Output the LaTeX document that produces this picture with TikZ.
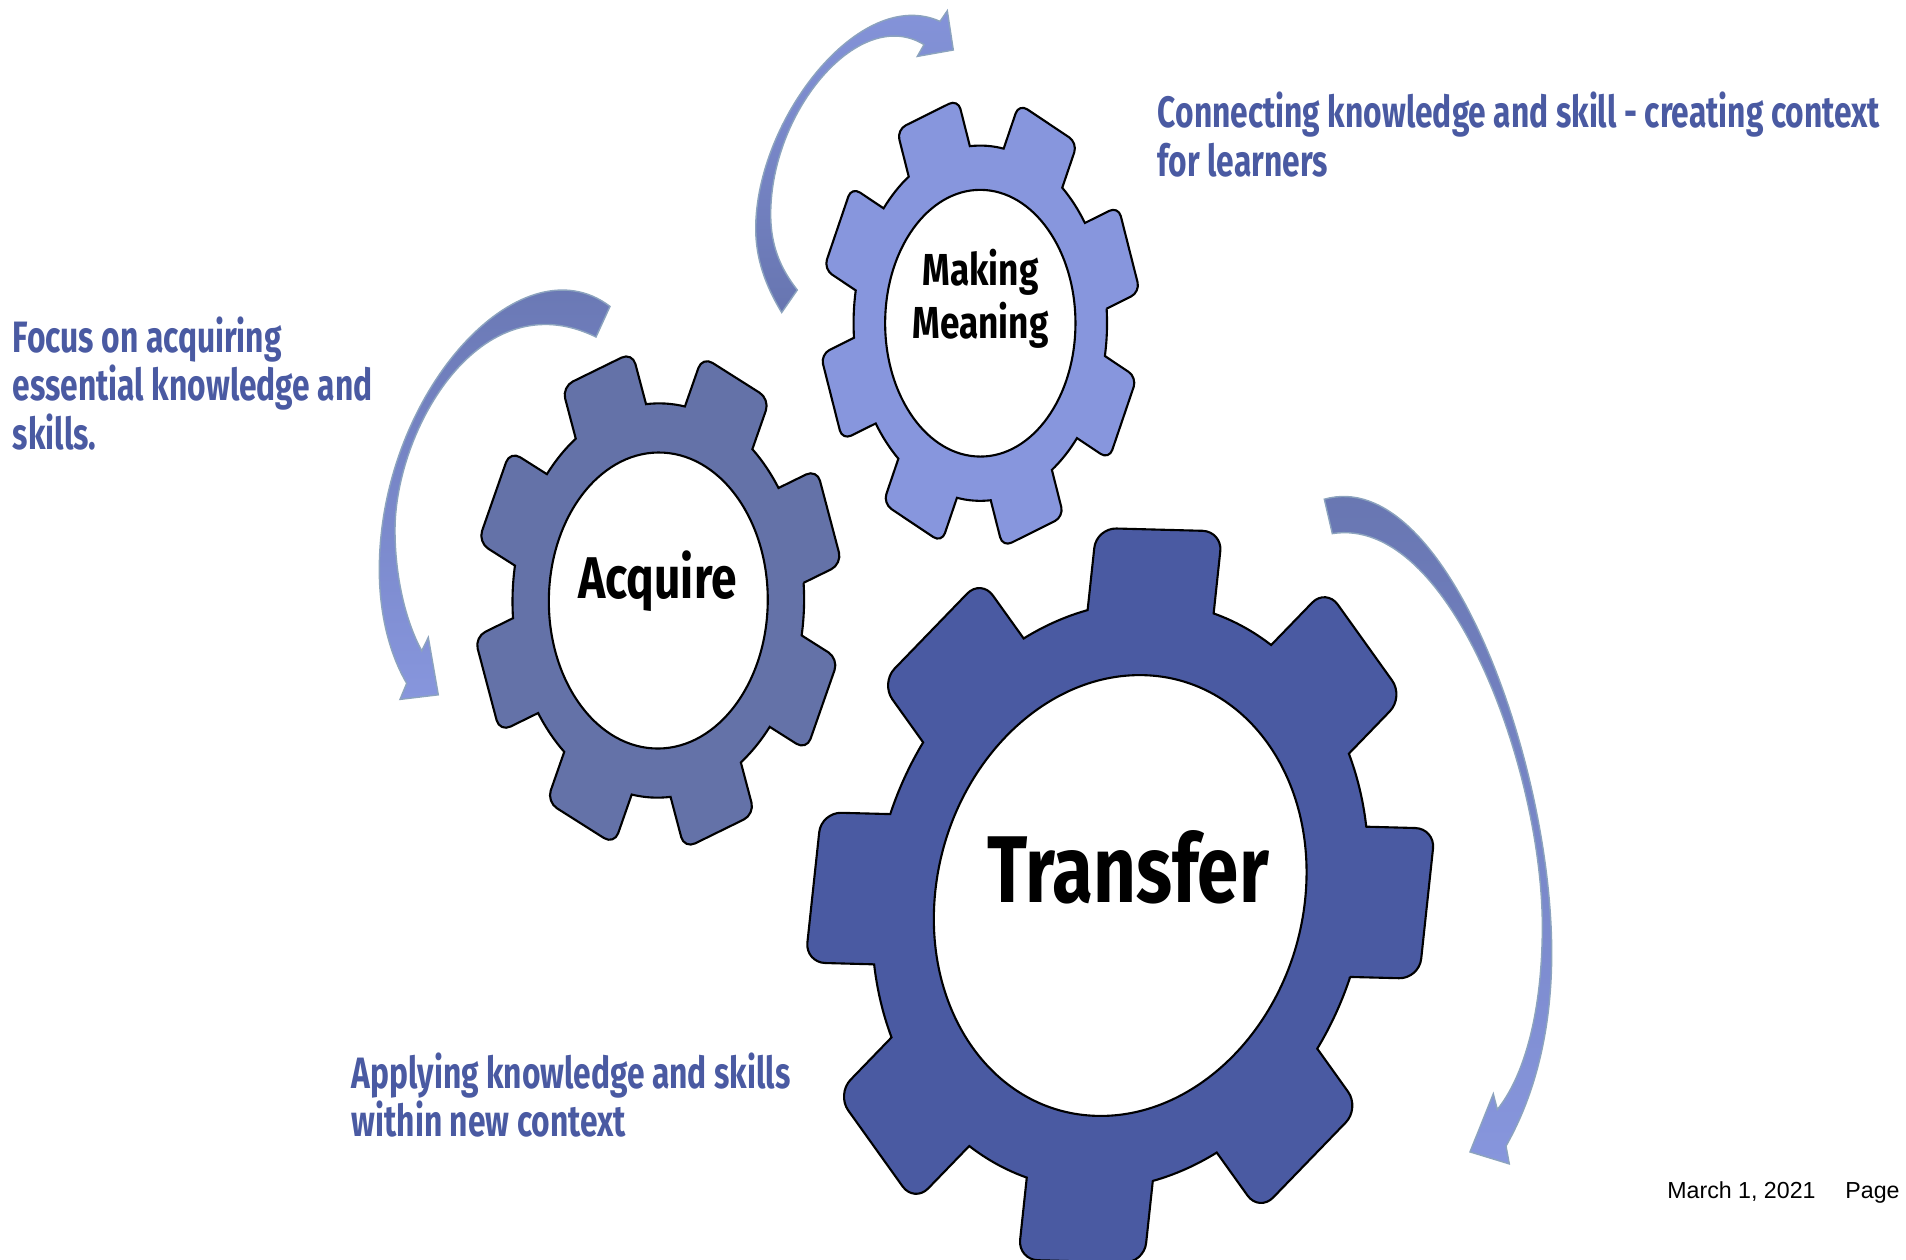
\documentclass[tikz,border=0pt]{standalone}
\usepackage{fontspec}
\setmainfont{Liberation Sans}
\newfontfamily\gearfont[FakeStretch=0.785]{Fira Sans Bold}
\newfontfamily\notefont[FakeStretch=0.723]{Fira Sans Bold}
\usetikzlibrary{positioning}

\definecolor{transferblue}{HTML}{4A5AA2}
\definecolor{acquireblue}{HTML}{6472A8}
\definecolor{meaningblue}{HTML}{8796DD}
\definecolor{arrowdark}{HTML}{6775B0}
\definecolor{arrowedge}{HTML}{8CA3BE}

% fill, centre, x axis (two numbers), y axis (two numbers), rotation, corner radius
\newcommand{\drawgear}[8]{
    \begin{scope}[cm={#3*0.02,-#4*0.02,#5*0.02,-#6*0.02,(#2)},x=1cm,y=1cm]
        \draw[gearline,fill=#1,even odd rule]
            (#7-14.83:1.035)
            \foreach \a in {0,45,...,315}
            {
                [rounded corners=#8] -- (#7+\a-11.6:1.317) -- (#7+\a+11.6:1.317)
                [sharp corners] -- (#7+\a+14.83:1.035)
                arc[start angle=#7+\a+14.83,end angle=#7+\a+30.17,radius=1.035]
            }
            -- cycle
            (0,0) circle[radius=0.777];
    \end{scope}
}

\tikzset{
    gearline/.style = {draw=black, line width=1.2pt},
    gearlabel/.style = {inner sep=0, align=center, text=black, font=\gearfont},
    notelabel/.style = {inner sep=0, anchor=base west, align=left, text=transferblue,
        font=\notefont\fontsize{25}{27.5}\selectfont},
    bendarrow/.style = {draw=arrowedge, line width=0.8pt, line join=miter}
}

\begin{document}
\begin{tikzpicture}[x=0.02cm,y=-0.02cm]
    \useasboundingbox (0,0) rectangle (1906,1259);
    \begin{scope}
        \clip (0,0) rectangle (1906,1259);
        \drawgear{transferblue}{1120.2,895.5}{237.9}{6.3}{30.4}{-283.6}{0}{0.4cm}
    \end{scope}
    \drawgear{acquireblue}{658.3,600.5}{140.7}{8.4}{7.0}{-190.3}{22.5}{0.24cm}
    \drawgear{meaningblue}{980.3,323.2}{122.3}{8.9}{6.3}{-171.4}{22.5}{0.2cm}

    % arrows
    \draw[bendarrow,top color=arrowdark,bottom color=meaningblue]
        (610,306.4) .. controls (520,238) and (379,395) .. (379.3,570)
        .. controls (379.3,615) and (390,655) .. (406.7,683.3)
        -- (400,699.4) -- (438.3,694.8) -- (428.3,637.4) -- (421.7,650.8)
        .. controls (405,620) and (395,575) .. (395,530)
        .. controls (395,430) and (480,280) .. (596,337)
        -- cycle;
    \draw[bendarrow,top color=meaningblue,bottom color=arrowdark]
        (781.7,312.5) .. controls (765,285) and (755.7,258) .. (755.7,228.6)
        .. controls (755.7,120) and (860,-15) .. (940,21.4)
        -- (947.3,10.7) -- (953.3,50) -- (917.3,56.4) -- (924,44.6)
        .. controls (860,5) and (770.7,110) .. (770.7,214.3)
        .. controls (770.7,245) and (780,268) .. (797.3,290)
        -- cycle;
    \draw[bendarrow,top color=arrowdark,bottom color=meaningblue]
        (1324.3,499.2) .. controls (1445,465) and (1551.7,760) .. (1551.7,953.2)
        .. controls (1551.7,1030) and (1535,1095) .. (1506,1146)
        -- (1509.3,1163.9) -- (1470,1151.9) -- (1493.3,1093.8) -- (1497.3,1109.5)
        .. controls (1525,1075) and (1542.3,1010) .. (1542.3,926.4)
        .. controls (1542.3,770) and (1450,515) .. (1332.3,533.6)
        -- cycle;

    % gear labels
    \node[gearlabel,anchor=base] (transfer) at (1128,902.5) {\fontsize{54}{60}\selectfont Transfer};
    \node[gearlabel,anchor=base] (acquire) at (657.5,598.4) {\fontsize{33.5}{36}\selectfont Acquire};
    \node[gearlabel,anchor=base] (making) at (980.5,285.6) {\fontsize{25.5}{30}\selectfont Making};
    \node[gearlabel,anchor=base] (meaning) at (980.5,338) {\fontsize{25.5}{30}\selectfont Meaning};

    % side notes
    \node[notelabel] (connecting) at (1157.5,176) {Connecting knowledge and skill - creating context\\for learners};
    \node[notelabel] (focus) at (12.5,449) {Focus on acquiring\\essential knowledge and\\skills.};
    \node[notelabel] (applying) at (351.5,1136.5) {Applying knowledge and skills\\within new context};
    \node[inner sep=0,anchor=base east,font=\fontsize{13.2}{16}\selectfont] (date) at (1900,1198) {March 1, 2021\hspace{1.29em}Page};
\end{tikzpicture}
\end{document}
